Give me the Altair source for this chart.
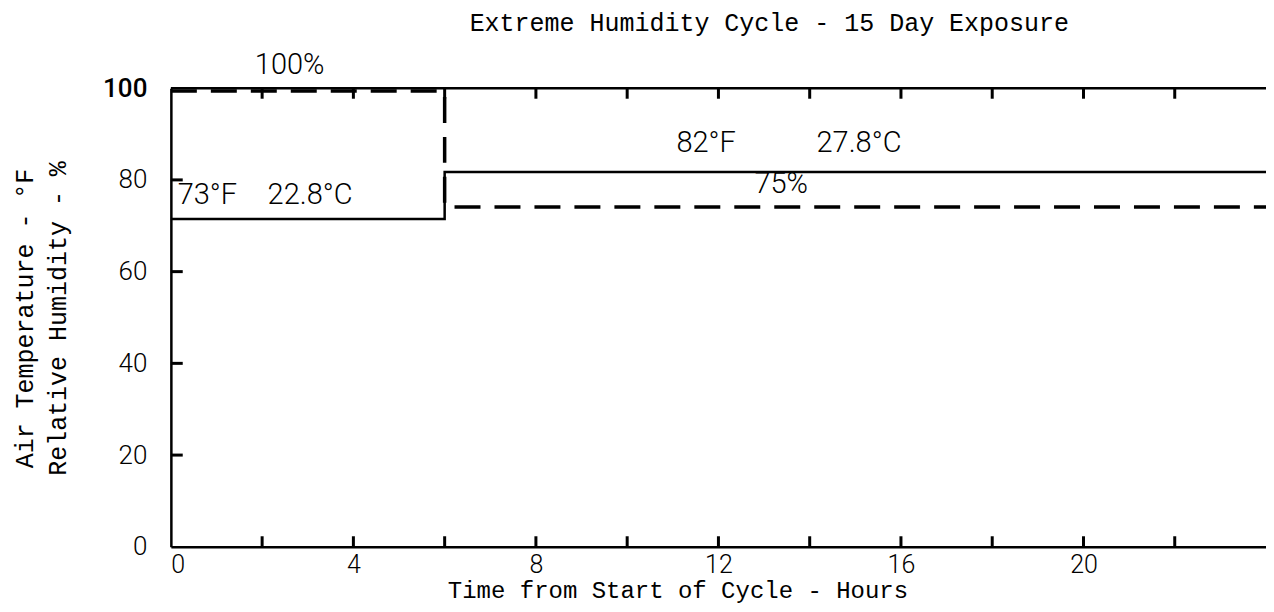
import altair as alt
import pandas as pd

# Step profiles (hours, value on the common 0-100 scale)
temp_hours = [0, 6, 6, 24]
temp_values = [71.5, 71.5, 81.7, 81.7]
rh_hours = [0, 6, 6, 24]
rh_values = [99.4, 99.4, 74.1, 74.1]

# Axis labels and tick positions
x_label_values = [0, 4, 8, 12, 16, 20]
y_label_values = [0, 20, 40, 60, 80, 100]
x_tick_hours = [2, 4, 6, 8, 10, 12, 14, 16, 18, 20, 22]
y_tick_values = [20, 40, 60, 80]

# Annotations
ann_text = ["100%", "73°F", "22.8°C", "82°F", "27.8°C", "75%"]
ann_hours = [1.84, 0.15, 2.12, 11.08, 14.15, 12.79]
ann_values = [105, 76.7, 76.7, 88.0, 88.0, 79.1]

X_MAX = 24
Y_MAX = 100
TICK_Y = 2.3   # tick length in y units
TICK_X = 0.26  # tick length in hours

TYPE_FONT = "Liberation Mono"
LETTER_FONT = "Roboto"

temp_df = pd.DataFrame({"order": range(len(temp_hours)), "hour": temp_hours, "value": temp_values})
rh_df = pd.DataFrame({"order": range(len(rh_hours)), "hour": rh_hours, "value": rh_values})
xt_df = pd.DataFrame({"hour": x_tick_hours})
yt_df = pd.DataFrame({"value": y_tick_values})
ann_df = pd.DataFrame({"text": ann_text, "hour": ann_hours, "value": ann_values})
one_df = pd.DataFrame({"a": [0]})

x_scale = alt.Scale(domain=[0, X_MAX], nice=False, zero=False)
y_scale = alt.Scale(domain=[0, Y_MAX], nice=False, zero=False)

x_axis = alt.Axis(
    values=x_label_values, ticks=False, grid=False,
    domainColor="black", domainWidth=2.5,
    labelFont=LETTER_FONT, labelFontSize=25, labelFontWeight=300, labelColor="black",
    labelPadding=6,
    title="Time from Start of Cycle - Hours",
    titleFont=TYPE_FONT, titleFontSize=24, titleFontWeight="normal", titleColor="black",
    titleX=507, titleY=51, titleAlign="center", titleBaseline="alphabetic",
)
y_axis = alt.Axis(
    values=y_label_values, ticks=False, grid=False,
    domainColor="black", domainWidth=2.5,
    labelFont=LETTER_FONT, labelFontSize=26, labelColor="black",
    labelFontWeight={"expr": "datum.value == 100 ? 500 : 300"},
    labelPadding=24,
    title=["Air Temperature - °F", "Relative Humidity - %"],
    titleFont=TYPE_FONT, titleFontSize=25, titleFontWeight="normal", titleColor="black",
    titleAngle=270, titleX=-158, titleY=230, titleAlign="center", titleBaseline="top",
    titleLineHeight=33,
)

rh = alt.Chart(rh_df).mark_line(color="black", strokeWidth=3.5, strokeDash=[26, 14]).encode(
    x=alt.X("hour:Q", scale=x_scale, axis=x_axis),
    y=alt.Y("value:Q", scale=y_scale, axis=y_axis),
    order="order:Q",
)
temp = alt.Chart(temp_df).mark_line(color="black", strokeWidth=2.5).encode(
    x=alt.X("hour:Q", scale=x_scale),
    y=alt.Y("value:Q", scale=y_scale),
    order="order:Q",
)
top_frame = alt.Chart(one_df).mark_rule(color="black", strokeWidth=2.5).encode(
    x=alt.datum(0, scale=x_scale), x2=alt.datum(X_MAX), y=alt.datum(Y_MAX, scale=y_scale)
)
top_ticks = alt.Chart(xt_df).mark_rule(color="black", strokeWidth=3).encode(
    x=alt.X("hour:Q", scale=x_scale), y=alt.datum(Y_MAX), y2=alt.datum(Y_MAX - TICK_Y)
)
bottom_ticks = alt.Chart(xt_df).mark_rule(color="black", strokeWidth=3).encode(
    x=alt.X("hour:Q", scale=x_scale), y=alt.datum(0), y2=alt.datum(TICK_Y)
)
left_ticks = alt.Chart(yt_df).mark_rule(color="black", strokeWidth=3).encode(
    y=alt.Y("value:Q", scale=y_scale), x=alt.datum(0), x2=alt.datum(TICK_X)
)
labels = alt.Chart(ann_df).mark_text(
    align="left", baseline="middle", font=LETTER_FONT, fontSize=29, fontWeight=300, color="black"
).encode(
    x=alt.X("hour:Q", scale=x_scale), y=alt.Y("value:Q", scale=y_scale), text="text:N"
)

chart = alt.layer(rh, temp, top_frame, top_ticks, bottom_ticks, left_ticks, labels).properties(
    width=1096,
    height=459,
    autosize=alt.AutoSizeParams(type="none"),
    padding={"left": 163, "top": 80, "right": 0, "bottom": 57},
    title=alt.TitleParams(
        text="Extreme Humidity Cycle - 15 Day Exposure",
        font=TYPE_FONT, fontSize=25, fontWeight="normal", color="black",
        anchor="start", frame="group", dx=299, offset=15,
    ),
).configure_view(stroke=None).configure(background="white")

chart.save("out.html", embed_options={"renderer": "svg", "actions": False})
